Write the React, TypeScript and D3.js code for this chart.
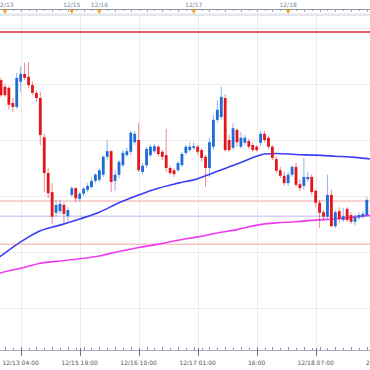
import React from "react";
import * as d3 from "d3";

const WIDTH = 370;
const HEIGHT = 370;
const PLOT_TOP = 16;
const PLOT_BOTTOM = 350;
const STEP = 59 / 15; // px per hourly candle

// hourly candles, index 0 = 12/13 00:00 (weekend gap removed)
const opens = [
  109.607, 109.595, 109.593, 109.566, 109.559, 109.604, 109.618, 109.613, 109.598, 109.584,
  109.575, 109.505, 109.441, 109.407, 109.370, 109.373, 109.384, 109.364, 109.402, 109.414,
  109.395, 109.404, 109.411, 109.416, 109.427, 109.429, 109.438, 109.470, 109.480, 109.427,
  109.438, 109.455, 109.473, 109.479, 109.496, 109.500, 109.443, 109.455, 109.473, 109.480,
  109.488, 109.479, 109.473, 109.450, 109.446, 109.446, 109.455, 109.477, 109.482, 109.486,
  109.488, 109.482, 109.470, 109.450, 109.488, 109.536, 109.541, 109.575, 109.500, 109.486,
  109.518, 109.488, 109.495, 109.498, 109.491, 109.488, 109.495, 109.511, 109.504, 109.488,
  109.466, 109.446, 109.436, 109.423, 109.438, 109.452, 109.421, 109.418, 109.430, 109.434,
  109.409, 109.388, 109.371, 109.363, 109.402, 109.346, 109.373, 109.357, 109.377, 109.366,
  109.354, 109.361, 109.363, 109.366,
];
const highs = [
  109.611, 109.600, 109.596, 109.575, 109.620, 109.632, 109.638, 109.639, 109.604, 109.589,
  109.586, 109.511, 109.450, 109.423, 109.393, 109.393, 109.388, 109.380, 109.418, 109.416,
  109.407, 109.416, 109.423, 109.434, 109.441, 109.450, 109.473, 109.500, 109.482, 109.446,
  109.464, 109.482, 109.486, 109.516, 109.516, 109.530, 109.459, 109.488, 109.491, 109.493,
  109.491, 109.482, 109.520, 109.454, 109.450, 109.463, 109.479, 109.491, 109.496, 109.496,
  109.491, 109.486, 109.473, 109.504, 109.545, 109.571, 109.595, 109.582, 109.509, 109.530,
  109.521, 109.514, 109.509, 109.502, 109.495, 109.491, 109.516, 109.516, 109.507, 109.491,
  109.471, 109.452, 109.443, 109.443, 109.455, 109.459, 109.429, 109.468, 109.443, 109.439,
  109.413, 109.393, 109.375, 109.438, 109.411, 109.375, 109.380, 109.379, 109.380, 109.371,
  109.368, 109.371, 109.373, 109.398,
];
const lows = [
  109.577, 109.577, 109.554, 109.550, 109.555, 109.586, 109.607, 109.593, 109.580, 109.568,
  109.491, 109.407, 109.396, 109.350, 109.363, 109.368, 109.352, 109.355, 109.398, 109.389,
  109.391, 109.400, 109.407, 109.413, 109.423, 109.425, 109.434, 109.464, 109.407, 109.409,
  109.432, 109.452, 109.470, 109.473, 109.491, 109.443, 109.438, 109.450, 109.470, 109.477,
  109.471, 109.464, 109.443, 109.438, 109.434, 109.443, 109.452, 109.473, 109.479, 109.482,
  109.473, 109.461, 109.416, 109.434, 109.482, 109.530, 109.536, 109.479, 109.479, 109.482,
  109.488, 109.484, 109.491, 109.484, 109.479, 109.479, 109.489, 109.496, 109.484, 109.464,
  109.441, 109.432, 109.418, 109.418, 109.434, 109.416, 109.409, 109.411, 109.425, 109.402,
  109.380, 109.343, 109.357, 109.359, 109.345, 109.343, 109.352, 109.354, 109.354, 109.350,
  109.348, 109.357, 109.359, 109.363,
];
const closes = [
  109.580, 109.580, 109.563, 109.559, 109.611, 109.618, 109.611, 109.598, 109.584, 109.575,
  109.509, 109.441, 109.405, 109.363, 109.384, 109.386, 109.368, 109.375, 109.414, 109.396,
  109.404, 109.413, 109.418, 109.427, 109.438, 109.446, 109.470, 109.480, 109.425, 109.438,
  109.461, 109.477, 109.480, 109.513, 109.511, 109.446, 109.454, 109.484, 109.488, 109.489,
  109.475, 109.470, 109.450, 109.441, 109.439, 109.459, 109.475, 109.488, 109.488, 109.489,
  109.479, 109.468, 109.450, 109.496, 109.536, 109.554, 109.577, 109.482, 109.482, 109.521,
  109.496, 109.504, 109.504, 109.488, 109.482, 109.482, 109.511, 109.500, 109.488, 109.468,
  109.445, 109.436, 109.423, 109.438, 109.452, 109.420, 109.414, 109.434, 109.434, 109.407,
  109.388, 109.370, 109.363, 109.402, 109.346, 109.371, 109.359, 109.364, 109.357, 109.354,
  109.363, 109.366, 109.368, 109.393,
];

// moving averages read at sample candles
const fastMaIdx = [-1, 0, 5, 10, 15, 20, 25, 30, 35, 40, 45, 50, 52, 55, 60, 65, 67, 70, 75, 80, 85, 90, 95];
const fastMa = [
  109.288, 109.293, 109.318, 109.338, 109.348, 109.359, 109.371, 109.388, 109.402, 109.414,
  109.423, 109.431, 109.436, 109.444, 109.457, 109.471, 109.475, 109.476, 109.474, 109.473,
  109.471, 109.469, 109.465,
];
const slowMaIdx = [-1, 0, 5, 10, 15, 20, 25, 30, 35, 40, 45, 50, 55, 60, 65, 70, 75, 80, 85, 90, 95];
const slowMa = [
  109.261, 109.263, 109.271, 109.280, 109.284, 109.288, 109.293, 109.301, 109.308, 109.314,
  109.321, 109.327, 109.334, 109.340, 109.348, 109.352, 109.354, 109.357, 109.359, 109.363,
  109.366,
];

// horizontal levels
const resistanceLevel = 109.693;
const upperBand = 109.391;
const pivotLevel = 109.364;
const lowerBand = 109.314;

const dayLabels = ["12/13", "12/15", "12/16", "12/17", "12/18"];
const dayIdx = [1, 18, 25, 49, 73];
const timeLabels = ["12/13 04:00", "12/15 19:00", "12/16 10:00", "12/17 01:00", "16:00", "12/18 07:00", "22:00"];
const timeIdx = [5, 20, 35, 50, 65, 80, 95];

export default function App() {
  const svgRef = React.useRef<SVGSVGElement | null>(null);

  React.useEffect(() => {
    if (!svgRef.current) return;
    const svg = d3.select(svgRef.current);
    svg.selectAll("*").remove();

    const x = d3.scaleLinear().domain([0, 94]).range([1, 1 + 94 * STEP]);
    const y = d3.scaleLinear().domain([109.2, 109.7]).range([308, 28]);
    const font = "'DejaVu Sans', sans-serif";

    svg.append("rect").attr("width", WIDTH).attr("height", HEIGHT).attr("fill", "#fff");

    svg.append("defs").append("clipPath").attr("id", "plot")
      .append("rect").attr("x", 0).attr("y", PLOT_TOP)
      .attr("width", WIDTH).attr("height", PLOT_BOTTOM - PLOT_TOP);

    // grid
    const grid = svg.append("g").attr("clip-path", "url(#plot)");
    grid.selectAll("line.h")
      .data(y.ticks(5))
      .enter().append("line")
      .attr("x1", 0).attr("x2", WIDTH)
      .attr("y1", d => Math.round(y(d)) + 0.5).attr("y2", d => Math.round(y(d)) + 0.5)
      .attr("stroke", "#ebebef");
    grid.selectAll("line.v")
      .data(timeIdx)
      .enter().append("line")
      .attr("x1", d => Math.round(x(d)) + 0.5).attr("x2", d => Math.round(x(d)) + 0.5)
      .attr("y1", PLOT_TOP).attr("y2", PLOT_BOTTOM)
      .attr("stroke", "#ebebef");

    const plot = svg.append("g").attr("clip-path", "url(#plot)");

    const hline = (p: number, color: string, w: number) =>
      plot.append("line")
        .attr("x1", 0).attr("x2", WIDTH)
        .attr("y1", y(p)).attr("y2", y(p))
        .attr("stroke", color).attr("stroke-width", w);
    hline(upperBand, "#f5a4a4", 1);
    hline(pivotLevel, "#babdf2", 1);
    hline(lowerBand, "#f5a4a4", 1);
    hline(resistanceLevel, "#e5262b", 1.5);

    const line = d3.line<[number, number]>()
      .x(d => x(d[0])).y(d => y(d[1]))
      .curve(d3.curveMonotoneX);
    plot.append("path")
      .attr("d", line(slowMaIdx.map((i, k) => [i, slowMa[k]] as [number, number])))
      .attr("fill", "none").attr("stroke", "#f03cf0").attr("stroke-width", 1.6);
    plot.append("path")
      .attr("d", line(fastMaIdx.map((i, k) => [i, fastMa[k]] as [number, number])))
      .attr("fill", "none").attr("stroke", "#3a3ef2").attr("stroke-width", 1.6);

    // candles
    const candles = plot.selectAll("g.c")
      .data(d3.range(opens.length))
      .enter().append("g");
    const col = (i: number) => (closes[i] >= opens[i] ? "#1f6bd8" : "#e4161c");
    candles.append("line")
      .attr("x1", i => x(i)).attr("x2", i => x(i))
      .attr("y1", i => y(highs[i])).attr("y2", i => y(lows[i]))
      .attr("stroke", col).attr("stroke-opacity", 0.5).attr("stroke-width", 1);
    candles.append("rect")
      .attr("x", i => x(i) - 1.4)
      .attr("width", 2.8)
      .attr("y", i => y(Math.max(opens[i], closes[i])))
      .attr("height", i => Math.max(1, Math.abs(y(opens[i]) - y(closes[i]))))
      .attr("fill", col);

    // top date ruler
    const top = svg.append("g");
    top.append("rect").attr("x", 0).attr("y", 13.5).attr("width", WIDTH).attr("height", 2.5).attr("fill", "#e4e6ec");
    top.append("line").attr("x1", 0).attr("x2", WIDTH).attr("y1", 9.5).attr("y2", 9.5).attr("stroke", "#8d929c");
    top.selectAll("line.t")
      .data(d3.range(-1, 96, 2))
      .enter().append("line")
      .attr("x1", d => Math.round(x(d)) + 0.5).attr("x2", d => Math.round(x(d)) + 0.5)
      .attr("y1", 9.5).attr("y2", (d, k) => (k % 2 ? 12 : 11))
      .attr("stroke", "#9aa0aa");
    top.selectAll("path.m")
      .data(dayIdx)
      .enter().append("path")
      .attr("d", d => `M${x(d) - 2.5},9.5L${x(d) + 2.5},9.5L${x(d)},14Z`)
      .attr("fill", "#f2a024");
    top.selectAll("text")
      .data(dayLabels)
      .enter().append("text")
      .attr("x", (_, k) => x(dayIdx[k]))
      .attr("y", 7)
      .attr("text-anchor", "middle")
      .style("font-family", font).style("font-size", "6px")
      .attr("fill", "#7482a6")
      .text(d => d);

    // bottom time axis
    const bot = svg.append("g");
    bot.append("line").attr("x1", 0).attr("x2", WIDTH).attr("y1", PLOT_BOTTOM + 0.5).attr("y2", PLOT_BOTTOM + 0.5).attr("stroke", "#aab0c0");
    bot.selectAll("line.t")
      .data(d3.range(-1, 96, 2))
      .enter().append("line")
      .attr("x1", d => Math.round(x(d)) + 0.5).attr("x2", d => Math.round(x(d)) + 0.5)
      .attr("y1", PLOT_BOTTOM).attr("y2", (d, k) => (k % 2 ? PLOT_BOTTOM - 3 : PLOT_BOTTOM - 2))
      .attr("stroke", "#8c919c");
    bot.selectAll("line.M")
      .data(timeIdx)
      .enter().append("line")
      .attr("x1", d => Math.round(x(d)) + 0.5).attr("x2", d => Math.round(x(d)) + 0.5)
      .attr("y1", PLOT_BOTTOM - 2).attr("y2", PLOT_BOTTOM + 6)
      .attr("stroke", "#6f7480");
    bot.selectAll("text")
      .data(timeLabels)
      .enter().append("text")
      .attr("x", (_, k) => x(timeIdx[k]))
      .attr("y", 365)
      .attr("text-anchor", "middle")
      .style("font-family", font).style("font-size", "6px")
      .attr("fill", "#555")
      .text(d => d);
  }, []);

  return (
    <svg
      ref={svgRef}
      width={WIDTH}
      height={HEIGHT}
      style={{ position: "absolute", left: 0, top: 0, display: "block" }}
    />
  );
}
